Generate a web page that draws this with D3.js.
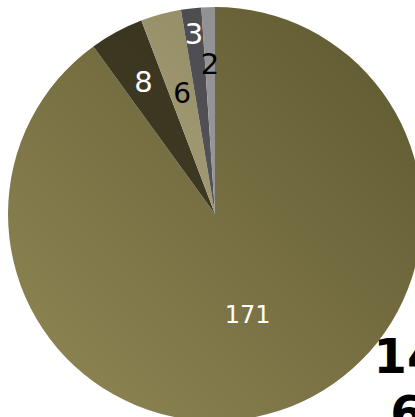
<!DOCTYPE html>
<html>
<head>
<meta charset="utf-8">
<script src="https://cdn.jsdelivr.net/npm/d3@7"></script>
<style>
  html, body { margin: 0; padding: 0; background: #fff; }
  svg { display: block; }
</style>
</head>
<body>
<svg id="chart" width="415" height="417"></svg>
<script>
// Slice values, clockwise from 12 o'clock
const categories = ["A", "B", "C", "D", "E"];
const values = [171, 8, 6, 3, 2];
// Per-slice shading: [light end, dark end]
const sliceColors = [
  ["#8c8352", "#625c33"],
  ["#443e26", "#36321d"],
  ["#b4ac86", "#8c865e"],
  ["#5a5a5e", "#4a4a4e"],
  ["#a0a0a2", "#8e8e90"]
];
const labelColors = ["#ffffff", "#ffffff", "#000000", "#ffffff", "#000000"];
const titleLines = ["14", "6"];

const svg = d3.select("#chart");
const cx = 215, cy = 214, r = 207;

const defs = svg.append("defs");
sliceColors.forEach((c, i) => {
  const g = defs.append("linearGradient")
    .attr("id", "grad" + i)
    .attr("gradientUnits", "userSpaceOnUse")
    .attr("x1", -r * 0.8).attr("y1", r * 0.8)
    .attr("x2", r * 0.8).attr("y2", -r * 0.8);
  g.append("stop").attr("offset", "0%").attr("stop-color", c[0]);
  g.append("stop").attr("offset", "100%").attr("stop-color", c[1]);
});

const data = categories.map((k, i) => ({ key: k, value: values[i], i }));
const pie = d3.pie().value(d => d.value).sort(null);
const arcs = pie(data);
const arc = d3.arc().innerRadius(0).outerRadius(r);

const g = svg.append("g").attr("transform", `translate(${cx},${cy})`);
g.selectAll("path.slice")
  .data(arcs)
  .join("path")
  .attr("class", "slice")
  .attr("d", arc)
  .attr("fill", d => `url(#grad${d.data.i})`)
  .attr("stroke", "none");

// Value labels placed along each slice's bisector
const labelRadius = [0.51, 0.727, 0.605, 0.876, 0.725];
const labelSize = [24, 29, 28, 29, 29];
g.selectAll("text.val")
  .data(arcs)
  .join("text")
  .attr("class", "val")
  .attr("transform", d => {
    const a = (d.startAngle + d.endAngle) / 2;
    const rr = r * labelRadius[d.data.i];
    return `translate(${Math.sin(a) * rr},${-Math.cos(a) * rr})`;
  })
  .attr("text-anchor", "middle")
  .attr("dy", "0.36em")
  .attr("font-family", "'DejaVu Sans', Verdana, sans-serif")
  .attr("font-size", d => labelSize[d.data.i])
  .attr("fill", d => labelColors[d.data.i])
  .text(d => d.value);

// Large bold text at lower right
const t = svg.append("text")
  .attr("font-family", "'DejaVu Sans', Verdana, sans-serif")
  .attr("font-weight", "bold")
  .attr("font-size", 48)
  .attr("fill", "#000")
  .attr("text-anchor", "middle");
titleLines.forEach((s, i) => {
  t.append("tspan").attr("x", 407).attr("y", 373 + i * 57).text(s);
});
</script>
</body>
</html>
